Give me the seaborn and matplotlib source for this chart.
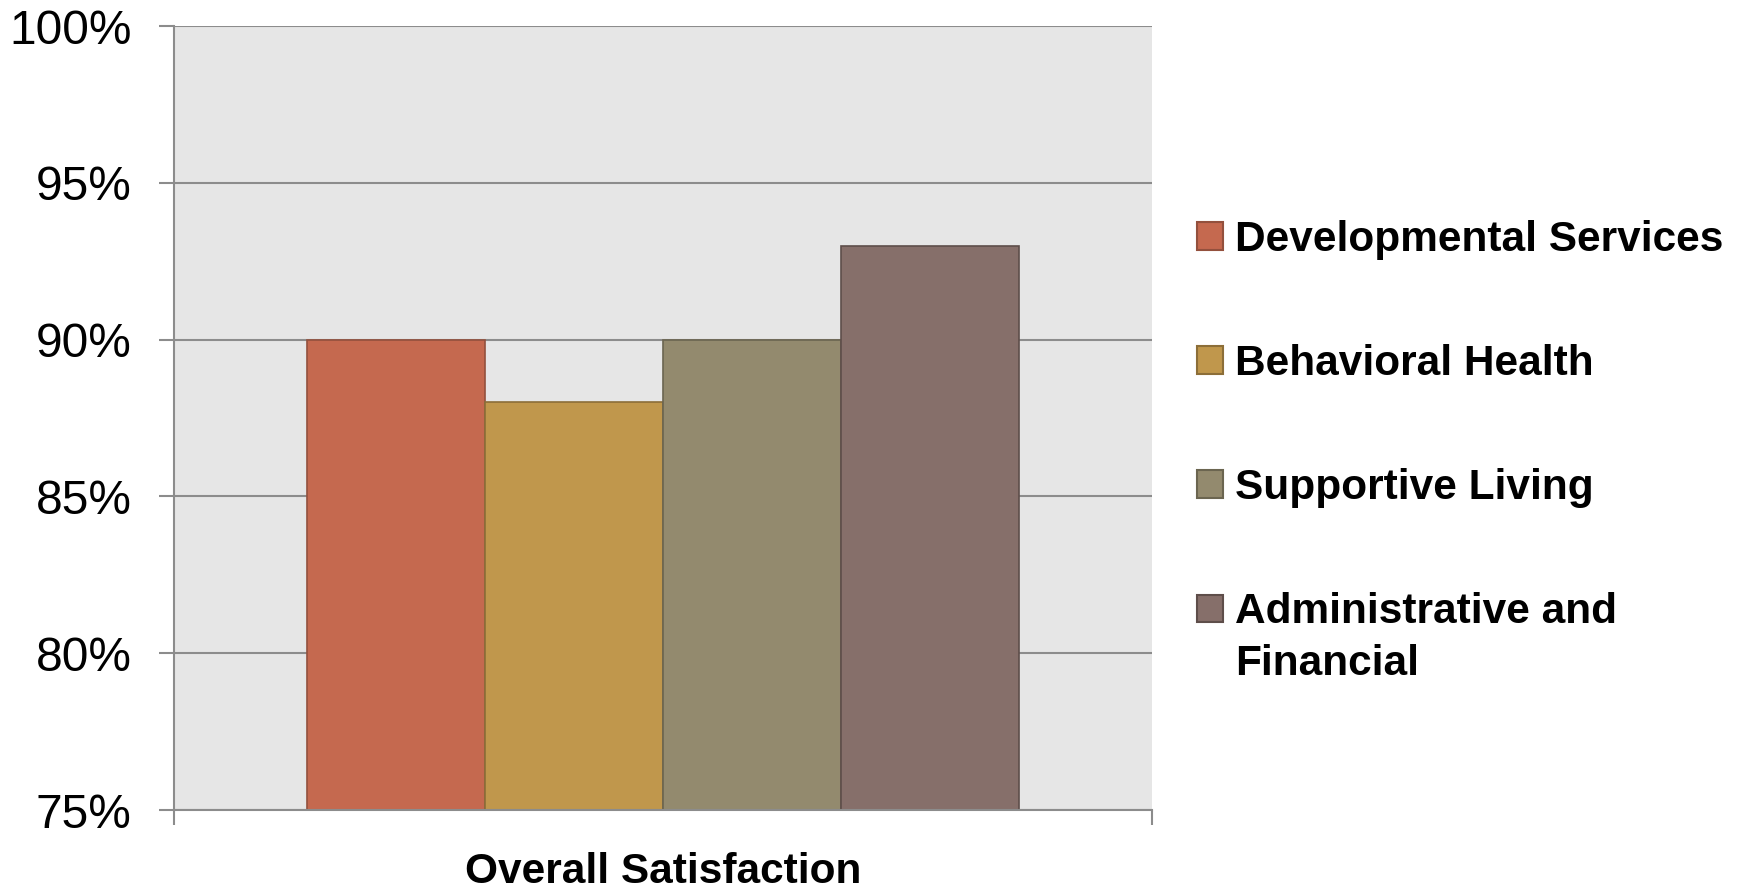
import pandas as pd
import numpy as np
import matplotlib
matplotlib.use('Agg')
import matplotlib.pyplot as plt
from matplotlib.ticker import FixedLocator
import seaborn as sns

# data
metric = 'Overall Satisfaction'
groups = ['Developmental Services', 'Behavioral Health', 'Supportive Living',
          'Administrative and Financial']
legend_labels = ['Developmental Services', 'Behavioral Health', 'Supportive Living',
                 'Administrative and\nFinancial']
values = [90, 88, 90, 93]
y_ticks = [75, 80, 85, 90, 95, 100]
tick_labels = ['75%', '80%', '85%', '90%', '95%', '100%']

fill_colors = ['#c5694f', '#c0974c', '#938a6e', '#866f6a']
edge_colors = ['#93503d', '#8c6e38', '#6b6550', '#5e4e4a']

df = pd.DataFrame({'metric': [metric] * len(groups), 'group': groups, 'value': values})

sns.set_style('white', {'axes.facecolor': '#e6e6e6'})
plt.rcParams['font.family'] = ['Liberation Sans', 'DejaVu Sans']
plt.rcParams['text.color'] = 'black'

grid_color = '#8c8c8c'
big_text = 30.5

fig = plt.figure(figsize=(17.5, 8.89), dpi=100)
ax = fig.add_axes([174 / 1750, 1 - 810 / 889, (1152 - 174) / 1750, (810 - 26) / 889])

sns.barplot(data=df, x='metric', y='value', hue='group', hue_order=groups,
            palette=fill_colors, width=0.728, ax=ax, linewidth=1.2, saturation=1)

for patch, ec in zip(ax.patches, edge_colors):
    patch.set_edgecolor(ec)

ax.set_xlim(-0.5, 0.5)
ax.set_ylim(75, 100)
ax.set_yticks(y_ticks)
ax.set_yticklabels(tick_labels, fontsize=34.5, color='black')
ax.yaxis.grid(True, color=grid_color, linewidth=1.5)
ax.set_axisbelow(True)
ax.tick_params(axis='y', length=10.5, width=1.5, color=grid_color, pad=20, left=True)

# category boundary ticks on x
ax.set_xticks([])
ax.xaxis.set_minor_locator(FixedLocator([-0.5, 0.5]))
ax.tick_params(axis='x', which='minor', length=10.5, width=1.5, color=grid_color, bottom=True)
ax.set_xlabel(metric, fontsize=big_text, fontweight='bold', labelpad=16, color='black')
ax.set_ylabel('')

for side in ['top', 'right']:
    ax.spines[side].set_visible(False)
for side in ['left', 'bottom']:
    ax.spines[side].set_color(grid_color)
    ax.spines[side].set_linewidth(1.5)

handles, _ = ax.get_legend_handles_labels()
leg = ax.legend(handles, legend_labels, loc='upper left',
                bbox_to_anchor=(1197 / 1750, 1 - 220 / 889),
                bbox_transform=fig.transFigure, frameon=False, borderpad=0, borderaxespad=0,
                handlelength=0.62, handleheight=0.62, handletextpad=0.28, labelspacing=1.98,
                prop={'size': big_text, 'weight': 'bold'})
for h, ec in zip(leg.legend_handles, edge_colors):
    h.set_edgecolor(ec)
    h.set_linewidth(1.5)
for t in leg.get_texts():
    t.set_color('black')
leg.get_texts()[-1].set_linespacing(1.4)
# square of the two-line entry sits on its first line
last = leg.legend_handles[-1]
last.set_y(last.get_y() + 0.7 * big_text)

plt.savefig('out.png', dpi=100)
